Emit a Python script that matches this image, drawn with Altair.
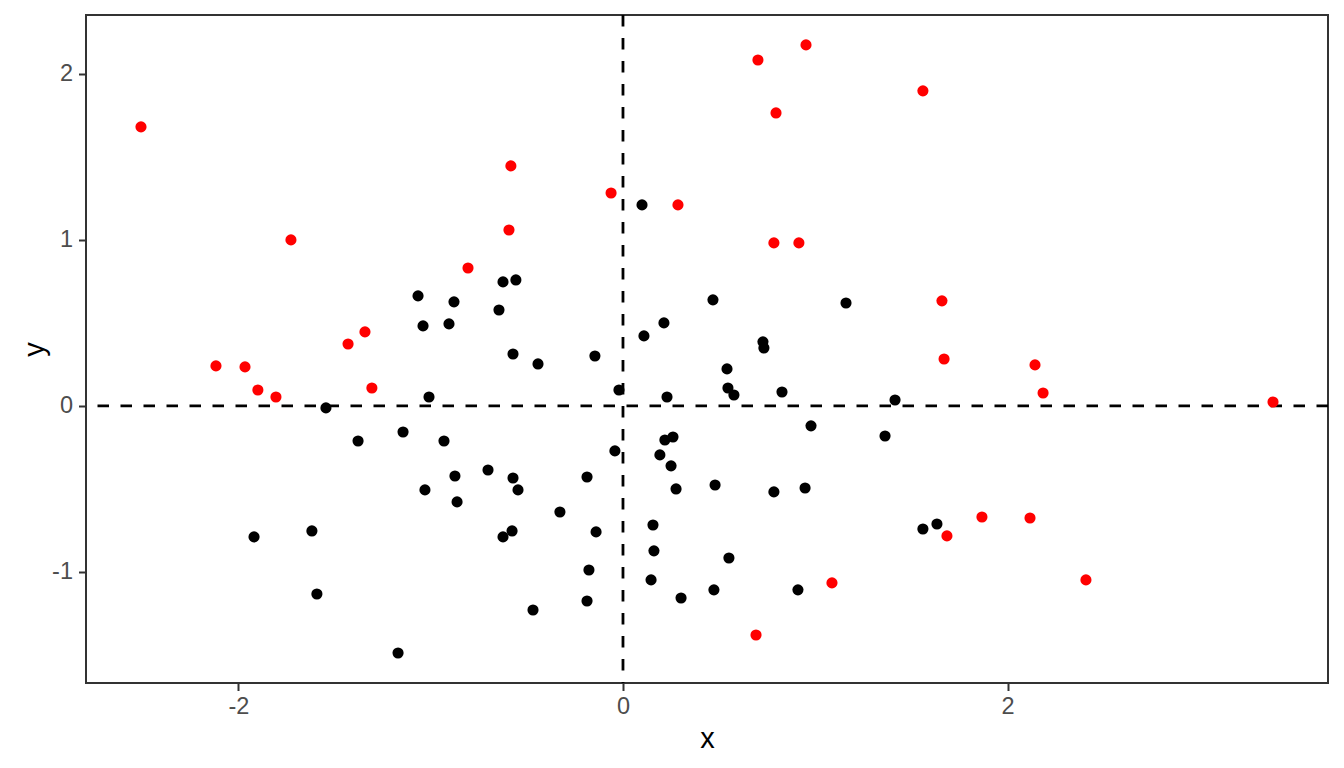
import altair as alt
import pandas as pd

# red points
x_red = [-2.507, -1.727, -0.806, -0.583, -0.593, -0.062, 0.286, 0.702, 0.952, 0.796,
         0.785, 0.915, 1.560, 1.659, 1.670, 2.143, 2.185, 3.381, -2.117, -1.966,
         -1.899, -1.805, -1.430, -1.342, -1.306, 1.685, 1.867, 2.117, 2.408, 1.087,
         0.692]
y_red = [1.681, 1.000, 0.831, 1.446, 1.060, 1.283, 1.211, 2.084, 2.175, 1.765,
         0.982, 0.982, 1.898, 0.633, 0.283, 0.247, 0.078, 0.024, 0.241, 0.235,
         0.096, 0.054, 0.373, 0.446, 0.108, -0.783, -0.669, -0.675, -1.048, -1.066,
         -1.380]

# black points
x_black = [-1.066, -0.879, -1.040, -0.905, -0.624, -0.557, -0.645, -0.572, -0.442, -0.146,
           0.099, 0.468, 1.160, 0.213, 0.109, 0.728, 0.733, 0.541, -0.021, 0.229,
           0.546, 0.577, 0.827, 1.415, 0.978, 1.363, 0.218, 0.260, -0.042, 0.192,
           0.250, -0.572, -0.546, -0.187, 0.276, 0.479, 0.785, 0.947, -0.328, -0.577,
           -0.624, -0.140, 0.156, 0.161, 0.551, -0.177, 0.146, 0.473, 0.302, 0.910,
           -0.187, -0.468, 1.560, 1.633, -1.545, -1.009, -1.378, -1.144, -0.931, -0.702,
           -0.874, -1.030, -0.863, -1.919, -1.618, -1.592, -1.170]
y_black = [0.663, 0.627, 0.482, 0.494, 0.747, 0.759, 0.578, 0.313, 0.253, 0.301,
           1.211, 0.639, 0.620, 0.500, 0.422, 0.386, 0.349, 0.223, 0.096, 0.054,
           0.108, 0.066, 0.084, 0.036, -0.120, -0.181, -0.205, -0.187, -0.271, -0.295,
           -0.361, -0.434, -0.506, -0.428, -0.500, -0.476, -0.518, -0.494, -0.639, -0.753,
           -0.789, -0.759, -0.717, -0.873, -0.916, -0.988, -1.048, -1.108, -1.157, -1.108,
           -1.175, -1.229, -0.741, -0.711, -0.012, 0.054, -0.211, -0.157, -0.211, -0.386,
           -0.422, -0.506, -0.578, -0.789, -0.753, -1.133, -1.488]

x_ticks = [-2, 0, 2]
y_ticks = [-1, 0, 1, 2]
x_domain = [-2.793, 3.667]
y_domain = [-1.669, 2.355]

df = pd.DataFrame({
    "x": x_black + x_red,
    "y": y_black + y_red,
    "group": ["black"] * len(x_black) + ["red"] * len(x_red),
})
ref = pd.DataFrame({"v": [0]})

FONT = "Liberation Sans"
LABEL = "'' + datum.value"

xscale = alt.Scale(domain=x_domain, nice=False, zero=False)
yscale = alt.Scale(domain=y_domain, nice=False, zero=False)

xaxis = alt.Axis(values=x_ticks, title="x", grid=False, domain=False, labelExpr=LABEL,
                 tickColor="#333333", tickWidth=2, tickSize=7.5,
                 labelColor="#4D4D4D", labelFont=FONT, labelFontSize=23.5,
                 labelPadding=4, titleFont=FONT, titleFontSize=29, titleFontWeight="normal",
                 titleColor="#000000", titlePadding=6)
yaxis = alt.Axis(values=y_ticks, title="y", grid=False, domain=False, labelExpr=LABEL,
                 tickColor="#333333", tickWidth=2, tickSize=7.5,
                 labelColor="#4D4D4D", labelFont=FONT, labelFontSize=23.5,
                 labelPadding=6, titleFont=FONT, titleFontSize=29, titleFontWeight="normal",
                 titleColor="#000000", titlePadding=2)

vline = alt.Chart(ref).mark_rule(color="black", strokeWidth=2.8, strokeDash=[11.5, 11.5]).encode(
    x=alt.X("v:Q", scale=xscale, axis=xaxis))
hline = alt.Chart(ref).mark_rule(color="black", strokeWidth=2.8, strokeDash=[11.5, 11.5]).encode(
    y=alt.Y("v:Q", scale=yscale, axis=yaxis))

points = alt.Chart(df).mark_circle(size=124, opacity=1).encode(
    x=alt.X("x:Q", scale=xscale, axis=xaxis),
    y=alt.Y("y:Q", scale=yscale, axis=yaxis),
    color=alt.Color("group:N", scale=alt.Scale(domain=["black", "red"], range=["#000000", "#FF0000"]),
                    legend=None),
)

chart = alt.layer(vline, hline, points).properties(
    width=1242, height=668,
    autosize=alt.AutoSizeParams(type="none"),
    padding={"left": 78, "top": 7, "right": 8, "bottom": 70},
).configure(
    background="white",
    view=alt.ViewConfig(stroke="#333333", strokeWidth=2),
)

chart.save("out.html", embed_options={"renderer": "svg", "actions": False})
